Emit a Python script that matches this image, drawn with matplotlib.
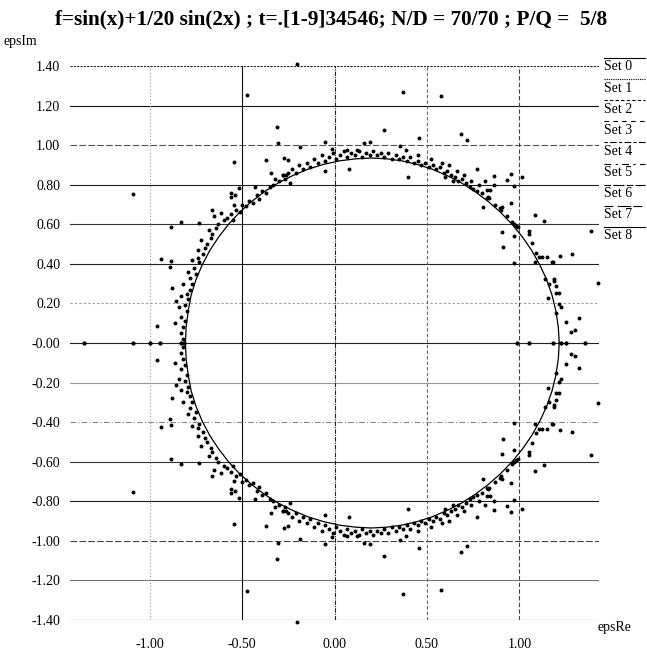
import matplotlib.pyplot as plt

# closed curve, upper half read every 5 degrees (lower half is its mirror image)
curve_x = [1.215, 1.210, 1.197, 1.176, 1.147, 1.110, 1.066, 1.016, 0.959, 0.897,
           0.830, 0.759, 0.685, 0.607, 0.527, 0.445, 0.362, 0.280, 0.198,
           0.117, 0.029, -0.058, -0.142, -0.224, -0.303, -0.377, -0.447, -0.513,
           -0.572, -0.626, -0.674, -0.715, -0.749, -0.775, -0.791, -0.802, -0.806]
curve_y = [0.0, 0.081, 0.162, 0.242, 0.320, 0.395, 0.468, 0.536, 0.601, 0.661,
           0.716, 0.766, 0.810, 0.847, 0.879, 0.903, 0.921, 0.931, 0.935,
           0.931, 0.921, 0.903, 0.879, 0.847, 0.810, 0.766, 0.716, 0.661,
           0.601, 0.536, 0.468, 0.395, 0.320, 0.242, 0.162, 0.082, 0.0]

# scattered points, upper half (values come in conjugate pairs)
outliers = [(-0.205, 1.41), (-0.473, 1.253), (-0.31, 1.093), (-0.308, 1.009),
            (-1.09, 0.753), (-0.544, 0.916), (-0.373, 0.925), (-0.883, 0.588),
            (-0.83, 0.61), (-0.731, 0.605), (0.369, 1.27), (0.575, 1.247),
            (0.27, 1.076), (0.458, 1.034), (0.683, 1.054), (0.714, 1.025),
            (1.387, 0.567), (1.425, 0.302), (1.083, 0.647), (1.131, 0.618)]

band_left = [(-0.94, 0.424), (-0.883, 0.414), (-0.89, 0.382), (-0.878, 0.276),
             (-0.856, 0.214), (-0.962, 0.086), (-0.865, 0.10),
             (-0.82, 0.02), (-0.83, 0.05), (-0.82, 0.08), (-0.81, 0.11), (-0.83, 0.13),
             (-0.80, 0.16), (-0.81, 0.19), (-0.79, 0.22), (-0.80, 0.25), (-0.78, 0.27),
             (-0.77, 0.30), (-0.78, 0.33), (-0.75, 0.35), (-0.76, 0.38), (-0.73, 0.41),
             (-0.74, 0.43), (-0.71, 0.45), (-0.70, 0.48), (-0.69, 0.50), (-0.67, 0.53),
             (-0.66, 0.55), (-0.64, 0.58), (-0.63, 0.60), (-0.66, 0.672), (-0.65, 0.64),
             (-0.616, 0.657), (-0.60, 0.62), (-0.72, 0.52), (-0.74, 0.47), (-0.68, 0.57),
             (-0.77, 0.42), (-0.79, 0.36), (-0.82, 0.30), (-0.84, 0.18), (-0.83, 0.24)]

band_top = [(-0.58, 0.63), (-0.56, 0.65), (-0.55, 0.62), (-0.53, 0.67), (-0.51, 0.66),
            (-0.50, 0.70), (-0.48, 0.69), (-0.46, 0.72), (-0.44, 0.71), (-0.42, 0.75),
            (-0.41, 0.73), (-0.39, 0.77), (-0.37, 0.76), (-0.35, 0.79), (-0.33, 0.80),
            (-0.32, 0.83), (-0.30, 0.82), (-0.28, 0.85), (-0.27, 0.83), (-0.25, 0.86),
            (-0.23, 0.88), (-0.21, 0.86), (-0.19, 0.90), (-0.17, 0.88), (-0.15, 0.91),
            (-0.13, 0.89), (-0.11, 0.93), (-0.09, 0.91), (-0.07, 0.95), (-0.05, 0.92),
            (-0.03, 0.94), (-0.01, 0.96), (0.01, 0.93), (0.03, 0.95), (0.05, 0.97),
            (0.07, 0.94), (0.09, 0.96), (0.11, 0.95), (0.13, 0.97), (0.15, 0.94),
            (0.17, 0.96), (0.19, 0.95), (0.21, 0.97), (0.23, 0.95), (0.25, 0.96),
            (0.27, 0.94), (0.29, 0.96), (0.31, 0.93), (0.33, 0.95), (0.35, 0.93),
            (0.37, 0.94), (0.39, 0.92), (0.41, 0.94), (0.43, 0.91), (0.45, 0.92),
            (0.47, 0.90), (0.49, 0.91), (0.51, 0.89), (0.53, 0.90), (0.55, 0.88),
            (0.57, 0.89), (0.59, 0.86), (0.61, 0.87), (0.63, 0.85), (0.65, 0.84),
            (0.67, 0.82), (0.69, 0.83), (0.71, 0.81), (0.73, 0.79), (0.75, 0.78),
            (0.77, 0.77), (-0.562, 0.758), (-0.539, 0.748), (-0.562, 0.738),
            (-0.544, 0.696), (-0.514, 0.782), (-0.431, 0.787), (-0.342, 0.857),
            (-0.274, 0.936), (-0.25, 0.925), (-0.189, 0.989), (-0.049, 1.014),
            (-0.016, 0.98), (0.065, 0.975), (0.12, 0.975), (0.158, 1.013),
            (0.19, 1.016), (-0.054, 0.871), (0.077, 0.878), (-0.238, 0.807),
            (-0.277, 0.849), (-0.26, 0.849), (0.353, 0.995), (0.384, 0.973),
            (0.40, 0.837), (0.45, 0.95), (0.52, 0.93), (0.58, 0.91), (0.62, 0.90),
            (0.66, 0.87), (0.70, 0.85), (0.74, 0.82), (0.78, 0.80), (0.60, 0.84),
            (0.64, 0.82)]

band_right = [(0.768, 0.88), (0.814, 0.817), (0.861, 0.844), (0.934, 0.824),
              (0.955, 0.854), (1.014, 0.839), (0.822, 0.773), (0.84, 0.773),
              (0.97, 0.793), (0.86, 0.80), (0.804, 0.689), (0.825, 0.731),
              (0.835, 0.735), (0.897, 0.681), (0.905, 0.685), (0.955, 0.706),
              (0.906, 0.561), (0.91, 0.484), (0.97, 0.542), (1.054, 0.567),
              (1.054, 0.551), (1.069, 0.507), (1.092, 0.453), (1.104, 0.436),
              (1.123, 0.433), (1.15, 0.436), (1.178, 0.408), (1.218, 0.441),
              (1.285, 0.448), (0.973, 0.403), (1.086, 0.408), (1.18, 0.408),
              (1.137, 0.323), (1.185, 0.323), (1.189, 0.315), (1.195, 0.288),
              (1.20, 0.254), (1.213, 0.251), (1.153, 0.226), (1.213, 0.197),
              (1.225, 0.183), (1.249, 0.108), (1.321, 0.125), (1.281, 0.057),
              (1.299, 0.066), (0.80, 0.76), (0.83, 0.74), (0.87, 0.70),
              (0.90, 0.67), (0.93, 0.64), (0.96, 0.61), (0.97, 0.60),
              (0.98, 0.59), (0.99, 0.585), (1.16, 0.30), (1.20, 0.15)]

on_axis = [(-1.355, 0.0), (-1.088, 0.0), (-0.995, 0.0), (-0.941, 0.0),
           (-0.83, 0.0), (-0.815, 0.0), (0.986, 0.0), (1.054, 0.0),
           (1.182, 0.0), (1.222, 0.0), (1.252, 0.0), (1.353, 0.0)]

y_ticks = [1.4, 1.2, 1.0, 0.8, 0.6, 0.4, 0.2, 0.0, -0.2, -0.4, -0.6, -0.8, -1.0, -1.2, -1.4]
y_labels = ["1.40", "1.20", "1.00", "0.80", "0.60", "0.40", "0.20", "-0.00",
            "-0.20", "-0.40", "-0.60", "-0.80", "-1.00", "-1.20", "-1.40"]
x_ticks = [-1.0, -0.5, 0.0, 0.5, 1.0]
x_labels = ["-1.00", "-0.50", "0.00", "0.50", "1.00"]
set_names = ["Set 0", "Set 1", "Set 2", "Set 3", "Set 4", "Set 5", "Set 6", "Set 7", "Set 8"]

title = "f=sin(x)+1/20 sin(2x) ; t=.[1-9]34546; N/D = 70/70 ; P/Q =  5/8"

plt.rcParams['font.family'] = ['Liberation Serif', 'DejaVu Serif']

fig = plt.figure(figsize=(6.47, 6.54), dpi=100)
ax = fig.add_axes([70 / 647, 1 - 620 / 654, 529 / 647, 554 / 654])
ax.set_xlim(-1.43, 1.43)
ax.set_ylim(-1.4, 1.4)
for s in ax.spines.values():
    s.set_visible(False)

# grid lines (the original mixes solid, dashed and grey lines)
hstyle = [((0, (2, 1)), '#222'), ('-', '#111'), ((0, (6, 2)), '#555'), ('-', '#222'),
          ('-', '#333'), ('-', '#222'), ((0, (2, 2)), '#999'), ('-', '#222'),
          ('-', '#999'), ((0, (5, 2, 1, 2)), '#888'), ('-', '#333'), ('-', '#222'),
          ((0, (6, 2)), '#444'), ('-', '#777'), ('-', '#222')]
for yv, (ls, col) in zip(y_ticks, hstyle):
    ax.axhline(yv, color=col, ls=ls, lw=0.8, zorder=1)
vstyle = [((0, (1, 2)), '#999'), ('-', '#111'), ((0, (4, 1, 1, 1)), '#222'),
          ((0, (3, 2)), '#666'), ((0, (4, 2)), '#444')]
for xv, (ls, col) in zip(x_ticks, vstyle):
    ax.axvline(xv, color=col, ls=ls, lw=0.8, zorder=1)

# curve (upper half + mirrored lower half)
cx = curve_x + curve_x[::-1]
cy = curve_y + [-v for v in curve_y[::-1]]
ax.plot(cx, cy, color='black', lw=0.9, zorder=2)

pts = outliers + band_left + band_top + band_right + on_axis
px = [p[0] for p in pts]
py = [p[1] for p in pts]
ax.scatter(px + px, py + [-v for v in py], s=8, color='black', lw=0, zorder=3, clip_on=False)

ax.set_yticks(y_ticks)
ax.set_yticklabels(y_labels)
ax.set_xticks(x_ticks)
ax.set_xticklabels(x_labels)
ax.tick_params(axis='y', length=0, pad=7, labelsize=10)
ax.tick_params(axis='x', length=0, pad=13, labelsize=10)

fig.text(331 / 647, 1 - 19 / 654, title, ha='center', va='center',
         fontsize=15.3, fontweight='bold')
fig.text(3 / 647, 1 - 42 / 654, "epsIm", ha='left', va='center', fontsize=10)
fig.text(598 / 647, 1 - 628 / 654, "epsRe", ha='left', va='center', fontsize=10)

# legend entries on the right, each with a line sample above the text
dashes = ['-', (0, (1, 1)), (0, (3, 2)), (0, (4, 4)), (0, (3, 2, 6, 2)),
          (0, (6, 4, 2, 4)), (0, (6, 2, 10, 2)), (0, (8, 4, 12, 2)), '-']
for i, name in enumerate(set_names):
    ytxt = 67 + 21.1 * i
    fig.add_artist(plt.Line2D([604 / 647, 645 / 647], [1 - (ytxt - 9) / 654, 1 - (ytxt - 9) / 654],
                              color='black', lw=0.8, ls=dashes[i]))
    fig.text(604 / 647, 1 - ytxt / 654, name, ha='left', va='center', fontsize=10)

fig.savefig("out.png", dpi=100)
